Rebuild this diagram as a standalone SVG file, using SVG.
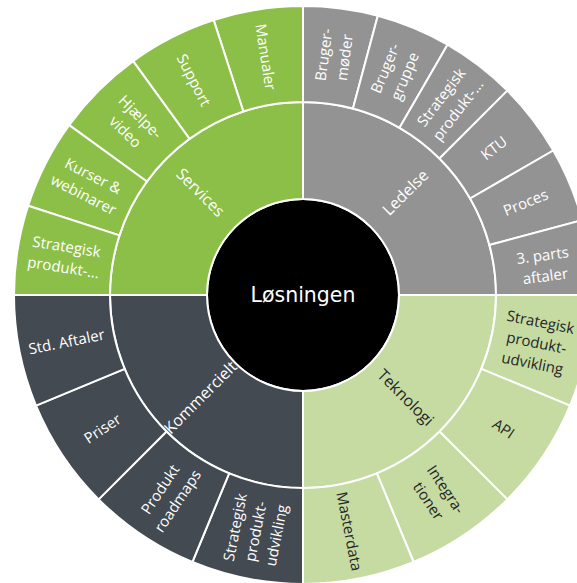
<svg xmlns="http://www.w3.org/2000/svg" width="577" height="583" viewBox="0 0 577 583">
<style>
.w{stroke:#fff;stroke-width:2;stroke-linejoin:round}
.sv{fill:#8CBF47}.ld{fill:#939393}.tk{fill:#C5DBA2}.km{fill:#434A52}
text{font-family:"Open Sans","Noto Sans","DejaVu Sans",sans-serif;font-size:15px;text-anchor:middle}
.lt{fill:#fff}.dt{fill:#262626}
.in{font-size:16px}
.c{font-family:"DejaVu Sans","Liberation Sans",sans-serif;font-size:20.5px;fill:#fff}
</style>
<rect width="577" height="583" fill="#fff"/>
<g id="center">
<circle cx="303" cy="295" r="96" fill="#000" stroke="#fff" stroke-width="2"/>
<text class="c" x="303" y="302">Løsningen</text>
</g>
<g id="services">
<path class="w sv" d="M 207,295 L 110,295 A 193 193 0 0 1 303,102 L 303,199 A 96 96 0 0 0 207,295 Z"/>
<g transform="translate(200.47,192.47) rotate(45)"><text class="lt in" y="5.5">Services</text></g>
</g>
<g id="ledelse">
<path class="w ld" d="M 303,199 L 303,102 A 193 193 0 0 1 496,295 L 399,295 A 96 96 0 0 0 303,199 Z"/>
<g transform="translate(405.53,192.47) rotate(-45)"><text class="lt in" y="5.5">Ledelse</text></g>
</g>
<g id="teknologi">
<path class="w tk" d="M 399,295 L 496,295 A 193 193 0 0 1 303,488 L 303,391 A 96 96 0 0 0 399,295 Z"/>
<g transform="translate(405.53,397.53) rotate(45)"><text class="dt in" y="5.5">Teknologi</text></g>
</g>
<g id="kommercielt">
<path class="w km" d="M 303,391 L 303,488 A 193 193 0 0 1 110,295 L 207,295 A 96 96 0 0 0 303,391 Z"/>
<g transform="translate(200.47,397.53) rotate(-45)"><text class="lt in" y="5.5">Kommercielt</text></g>
</g>
<g id="manualer">
<path class="w sv" d="M 243.36,111.45 L 213.69,20.14 A 289 289 0 0 1 303,6 L 303,102 A 193 193 0 0 0 243.36,111.45 Z"/>
<g transform="translate(265.3,56.97) rotate(81)"><text class="lt" y="5">Manualer</text></g>
</g>
<g id="support">
<path class="w sv" d="M 189.56,138.86 L 133.13,61.19 A 289 289 0 0 1 213.69,20.14 L 243.36,111.45 A 193 193 0 0 0 189.56,138.86 Z"/>
<g transform="translate(193.59,80.27) rotate(63)"><text class="lt" y="5">Support</text></g>
</g>
<g id="hjaelpevideo">
<path class="w sv" d="M 146.86,181.56 L 69.19,125.13 A 289 289 0 0 1 133.13,61.19 L 189.56,138.86 A 193 193 0 0 0 146.86,181.56 Z"/>
<g transform="translate(132.59,124.59) rotate(45)"><text class="lt"><tspan x="0" y="-5.5">Hjælpe-</tspan><tspan x="0" y="15.5">video</tspan></text></g>
</g>
<g id="kurser">
<path class="w sv" d="M 119.45,235.36 L 28.14,205.69 A 289 289 0 0 1 69.19,125.13 L 146.86,181.56 A 193 193 0 0 0 119.45,235.36 Z"/>
<g transform="translate(88.27,185.59) rotate(27)"><text class="lt"><tspan x="0" y="-5.5">Kurser &amp;</tspan><tspan x="0" y="15.5">webinarer</tspan></text></g>
</g>
<g id="services-strategisk">
<path class="w sv" d="M 110,295 L 14,295 A 289 289 0 0 1 28.14,205.69 L 119.45,235.36 A 193 193 0 0 0 110,295 Z"/>
<g transform="translate(64.97,257.3) rotate(9)"><text class="lt"><tspan x="0" y="-5.5">Strategisk</tspan><tspan x="0" y="15.5">produkt-...</tspan></text></g>
</g>
<g id="brugermoeder">
<path class="w ld" d="M 303,102 L 303,6 A 289 289 0 0 1 377.8,15.85 L 352.95,108.58 A 193 193 0 0 0 303,102 Z"/>
<g transform="translate(334.46,56.06) rotate(-82.5)"><text class="lt"><tspan x="0" y="-5.5">Bruger-</tspan><tspan x="0" y="15.5">møder</tspan></text></g>
</g>
<g id="brugergruppe">
<path class="w ld" d="M 352.95,108.58 L 377.8,15.85 A 289 289 0 0 1 447.5,44.72 L 399.5,127.86 A 193 193 0 0 0 352.95,108.58 Z"/>
<g transform="translate(395.23,72.34) rotate(-67.5)"><text class="lt"><tspan x="0" y="-5.5">Bruger-</tspan><tspan x="0" y="15.5">gruppe</tspan></text></g>
</g>
<g id="ledelse-strategisk">
<path class="w ld" d="M 399.5,127.86 L 447.5,44.72 A 289 289 0 0 1 507.35,90.65 L 439.47,158.53 A 193 193 0 0 0 399.5,127.86 Z"/>
<g transform="translate(449.71,103.8) rotate(-52.5)"><text class="lt"><tspan x="0" y="-5.5">Strategisk</tspan><tspan x="0" y="15.5">produkt-...</tspan></text></g>
</g>
<g id="ktu">
<path class="w ld" d="M 439.47,158.53 L 507.35,90.65 A 289 289 0 0 1 553.28,150.5 L 470.14,198.5 A 193 193 0 0 0 439.47,158.53 Z"/>
<g transform="translate(494.2,148.29) rotate(-37.5)"><text class="lt" y="5">KTU</text></g>
</g>
<g id="proces">
<path class="w ld" d="M 470.14,198.5 L 553.28,150.5 A 289 289 0 0 1 582.15,220.2 L 489.42,245.05 A 193 193 0 0 0 470.14,198.5 Z"/>
<g transform="translate(525.66,202.77) rotate(-22.5)"><text class="lt" y="5">Proces</text></g>
</g>
<g id="tredjeparts">
<path class="w ld" d="M 489.42,245.05 L 582.15,220.2 A 289 289 0 0 1 592,295 L 496,295 A 193 193 0 0 0 489.42,245.05 Z"/>
<g transform="translate(544,266) rotate(-7.5)"><text class="lt"><tspan x="0" y="-5.5">3. parts</tspan><tspan x="0" y="15.5">aftaler</tspan></text></g>
</g>
<g id="teknologi-strategisk">
<path class="w tk" d="M 496,295 L 592,295 A 289 289 0 0 1 570,405.59 L 481.31,368.86 A 193 193 0 0 0 496,295 Z"/>
<g transform="translate(536.5,343) rotate(11.25)"><text class="dt"><tspan x="0" y="-16">Strategisk</tspan><tspan x="0" y="5">produkt-</tspan><tspan x="0" y="26">udvikling</tspan></text></g>
</g>
<g id="api">
<path class="w tk" d="M 481.31,368.86 L 570,405.59 A 289 289 0 0 1 507.35,499.35 L 439.47,431.47 A 193 193 0 0 0 481.31,368.86 Z"/>
<g transform="translate(503.38,428.89) rotate(33.75)"><text class="dt" y="5">API</text></g>
</g>
<g id="integrationer">
<path class="w tk" d="M 439.47,431.47 L 507.35,499.35 A 289 289 0 0 1 413.59,562 L 376.86,473.31 A 193 193 0 0 0 439.47,431.47 Z"/>
<g transform="translate(436.89,495.38) rotate(56.25)"><text class="dt"><tspan x="0" y="-5.5">Integra-</tspan><tspan x="0" y="15.5">tioner</tspan></text></g>
</g>
<g id="masterdata">
<path class="w tk" d="M 376.86,473.31 L 413.59,562 A 289 289 0 0 1 303,584 L 303,488 A 193 193 0 0 0 376.86,473.31 Z"/>
<g transform="translate(349,531.37) rotate(78.75)"><text class="dt" y="5">Masterdata</text></g>
</g>
<g id="kommercielt-strategisk">
<path class="w km" d="M 303,488 L 303,584 A 289 289 0 0 1 192.41,562 L 229.14,473.31 A 193 193 0 0 0 303,488 Z"/>
<g transform="translate(255.98,531.37) rotate(-78.75)"><text class="lt"><tspan x="0" y="-16">Strategisk</tspan><tspan x="0" y="5">produkt-</tspan><tspan x="0" y="26">udvikling</tspan></text></g>
</g>
<g id="produktroadmaps">
<path class="w km" d="M 229.14,473.31 L 192.41,562 A 289 289 0 0 1 98.65,499.35 L 166.53,431.47 A 193 193 0 0 0 229.14,473.31 Z"/>
<g transform="translate(169.11,495.38) rotate(-56.25)"><text class="lt"><tspan x="0" y="-5.5">Produkt</tspan><tspan x="0" y="15.5">roadmaps</tspan></text></g>
</g>
<g id="priser">
<path class="w km" d="M 166.53,431.47 L 98.65,499.35 A 289 289 0 0 1 36,405.59 L 124.69,368.86 A 193 193 0 0 0 166.53,431.47 Z"/>
<g transform="translate(102.62,428.89) rotate(-33.75)"><text class="lt" y="5">Priser</text></g>
</g>
<g id="stdaftaler">
<path class="w km" d="M 124.69,368.86 L 36,405.59 A 289 289 0 0 1 14,295 L 110,295 A 193 193 0 0 0 124.69,368.86 Z"/>
<g transform="translate(66.63,342.02) rotate(-11.25)"><text class="lt" y="5">Std. Aftaler</text></g>
</g>
<g id="connectors"/>
</svg>
